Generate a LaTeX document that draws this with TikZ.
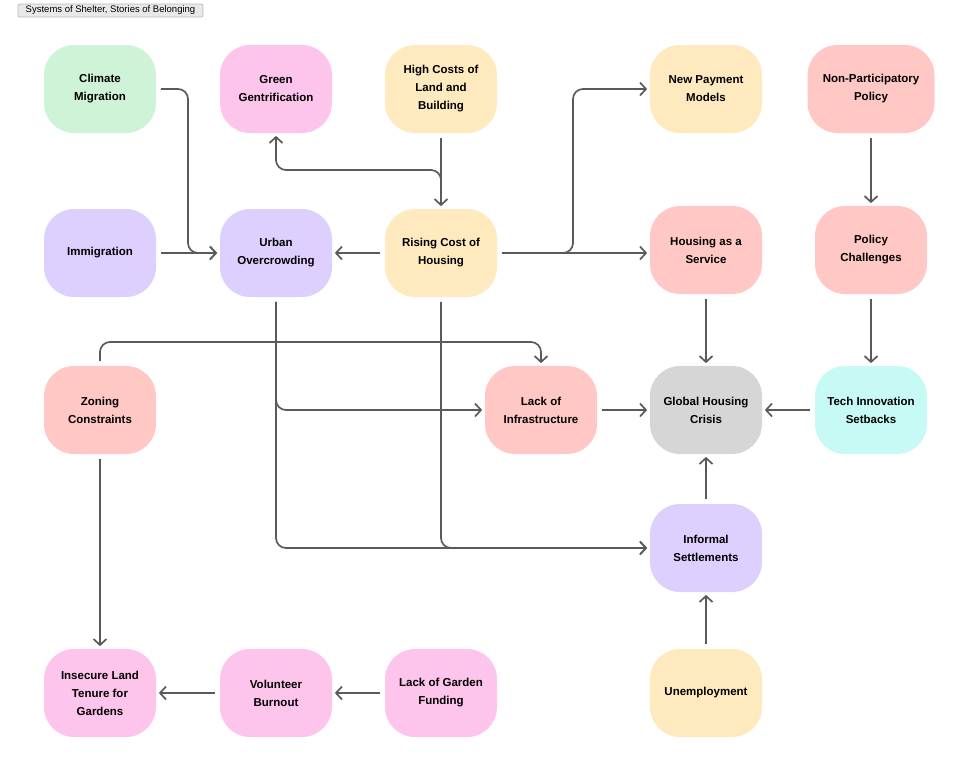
\documentclass[tikz,border=0pt]{standalone}
\usepackage{fontspec}
\setmainfont{Liberation Sans}
\usepackage{xcolor}
\usepackage{tikz}
\usetikzlibrary{arrows.meta,positioning}

\definecolor{cgreen}{RGB}{206,243,214}
\definecolor{cpink}{RGB}{253,196,236}
\definecolor{cyellow}{RGB}{254,234,190}
\definecolor{csalmon}{RGB}{255,200,196}
\definecolor{cpurple}{RGB}{221,208,254}
\definecolor{cgray}{RGB}{214,214,214}
\definecolor{ccyan}{RGB}{199,250,245}
\definecolor{cline}{RGB}{90,90,90}

\begin{document}
\begin{tikzpicture}[
		x = 1pt, y = -1pt, % pixel grid, y grows downwards
		> = {Straight Barb[length=6pt,width=13pt]}, % arrow head style
		shorten > = 2pt, % don't touch arrow head to node
		shorten < = 4pt,
		line width = 1.7pt
	]
	
	\tikzstyle{issue}=[
	draw = none,
	rectangle,
	rounded corners = 30pt,
	minimum width = 112pt,
	minimum height = 88pt,
	align = center,
	font = \fontsize{11.5}{18}\selectfont\bfseries
	]
	\tikzstyle{link}=[->, draw = cline, rounded corners = 10pt]
	
	\useasboundingbox (0,0) rectangle (980,780);
	
	\node[draw = black!28, fill = black!9, rounded corners = 2pt, line width = 0.7pt,
	minimum width = 185pt, minimum height = 13pt, inner sep = 0pt,
	font = \fontsize{9.5}{10}\selectfont] (title) at (110.5,10.5) {Systems of Shelter, Stories of Belonging};
	
	% first row
	\node[issue, fill = cgreen] (climate) at (100,89) {Climate\\Migration};
	\node[issue, fill = cpink] (green) at (276,89) {Green\\Gentrification};
	\node[issue, fill = cyellow] (highcost) at (441,89) {High Costs of\\Land and\\Building};
	\node[issue, fill = cyellow] (newpay) at (706,89) {New Payment\\Models};
	\node[issue, fill = csalmon, minimum width = 127pt] (nonpart) at (871,89) {Non-Participatory\\Policy};
	
	% second row
	\node[issue, fill = cpurple] (immig) at (100,253) {Immigration};
	\node[issue, fill = cpurple] (urban) at (276,253) {Urban\\Overcrowding};
	\node[issue, fill = cyellow] (rising) at (441,253) {Rising Cost of\\Housing};
	\node[issue, fill = csalmon] (haas) at (706,250) {Housing as a\\Service};
	\node[issue, fill = csalmon] (policy) at (871,250) {Policy\\Challenges};
	
	% third row
	\node[issue, fill = csalmon] (zoning) at (100,410) {Zoning\\Constraints};
	\node[issue, fill = csalmon] (infra) at (541,410) {Lack of\\Infrastructure};
	\node[issue, fill = cgray] (crisis) at (706,410) {Global Housing\\Crisis};
	\node[issue, fill = ccyan] (tech) at (871,410) {Tech Innovation\\Setbacks};
	
	\node[issue, fill = cpurple] (informal) at (706,548) {Informal\\Settlements};
	
	% bottom row
	\node[issue, fill = cpink] (tenure) at (100,693) {Insecure Land\\Tenure for\\Gardens};
	\node[issue, fill = cpink] (burnout) at (276,693) {Volunteer\\Burnout};
	\node[issue, fill = cpink] (funding) at (441,693) {Lack of Garden\\Funding};
	\node[issue, fill = cyellow] (unemp) at (706,693) {Unemployment};
	
	% bends
	\coordinate (cbend) at (188,89);
	\coordinate (gbend) at (441,170);
	\coordinate (pbend) at (573,253);
	\coordinate (zbend) at (100,342);
	
	\draw[link] (climate.east) -- (cbend) |- (urban.west);
	\draw[link] (immig) -- (urban);
	\draw[link] (highcost) -- (rising);
	\draw[link] (rising.north) -- (gbend) -| (green.south);
	\draw[link] (rising) -- (urban);
	\draw[link] (rising.east) -- (pbend) |- (newpay.west);
	\draw[link] (rising.east) -- (rising.east -| haas.west);
	\draw[link] (haas) -- (crisis);
	\draw[link] (nonpart) -- (policy);
	\draw[link] (policy) -- (tech);
	\draw[link] (tech) -- (crisis);
	\draw[link] (infra) -- (crisis);
	\draw[link] (informal) -- (crisis);
	\draw[link] (unemp) -- (informal);
	
	\draw[link] (zoning.north) -- (zbend) -| (infra.north);
	\draw[link] (urban.south) |- (infra.west);
	\draw[link] (urban.south) |- (informal.west);
	\draw[link] (rising.south) |- (informal.west);
	
	\draw[link] (zoning) -- (tenure);
	\draw[link] (funding) -- (burnout);
	\draw[link] (burnout) -- (tenure);
\end{tikzpicture}
\end{document}
